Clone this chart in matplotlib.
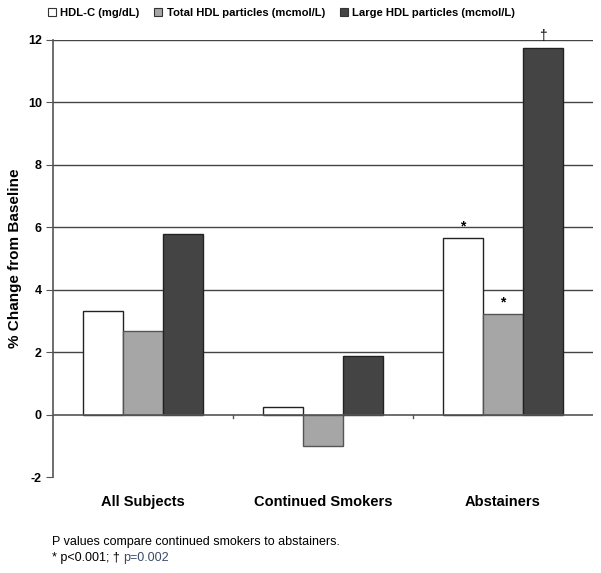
import matplotlib
matplotlib.use("Agg")
import matplotlib.pyplot as plt
import numpy as np
from matplotlib.patches import Rectangle

plt.rcParams['font.family'] = ['Liberation Sans', 'DejaVu Sans']

categories = ["All Subjects", "Continued Smokers", "Abstainers"]
series_names = ["HDL-C (mg/dL)", "Total HDL particles (mcmol/L)", "Large HDL particles (mcmol/L)"]
hdl_c = [3.32, 0.25, 5.65]
total_hdl = [2.67, -1.0, 3.22]
large_hdl = [5.77, 1.87, 11.75]
colors = ["#ffffff", "#a6a6a6", "#444444"]
annotations = {(0, 2): "*", (1, 2): "*", (2, 2): "\u2020"}  # (series, category)
yticks = [-2, 0, 2, 4, 6, 8, 10, 12]

fig = plt.figure(figsize=(6.01, 5.73), dpi=100)
ax = fig.add_axes([53/601, 1 - 477/573, 540/601, 437/573])

series = [hdl_c, total_hdl, large_hdl]
x = np.arange(len(categories))
w = 40/180
for i, vals in enumerate(series):
    ax.bar(x + (i - 1) * w, vals, width=w, color=colors[i],
           edgecolor="#222222" if i != 1 else "#555555", linewidth=1.0, zorder=3)

for (si, ci), txt in annotations.items():
    v = series[si][ci]
    ax.text(ci + (si - 1) * w, v + 0.15, txt, ha="center", va="bottom",
            fontsize=10, fontweight="bold" if txt == "*" else "normal", zorder=4)

ax.set_xlim(-0.5, 2.5)
ax.set_ylim(-2, 12)
ax.set_yticks(yticks)
ax.set_yticklabels([str(t) for t in yticks], fontsize=9, fontweight="bold")
for t in yticks[2:]:
    ax.axhline(t, color="#444444", linewidth=1.0, zorder=1)
ax.axhline(0, color="#555555", linewidth=1.2, zorder=4)

# category boundary ticks on the zero line
for b in [0.5, 1.5]:
    ax.plot([b, b], [0, -0.12], color="#555555", linewidth=1.0, zorder=4, clip_on=False)

ax.set_xticks([])
for s in ["top", "right", "bottom"]:
    ax.spines[s].set_visible(False)
ax.spines["left"].set_color("#555555")
ax.spines["left"].set_linewidth(1.2)
ax.tick_params(axis="y", direction="out", length=5, color="#555555", pad=3)

for i, c in enumerate(categories):
    ax.text(i, -2.8, c, ha="center", va="center", fontsize=10.5, fontweight="bold",
            transform=ax.transData, clip_on=False)

ax.set_ylabel("% Change from Baseline", fontsize=11, fontweight="bold")
ax.yaxis.set_label_coords(-0.057, 0.5)

# legend
handles = [Rectangle((0, 0), 1, 1, facecolor=colors[i], edgecolor="#333333", linewidth=0.8)
           for i in range(3)]
fig.legend(handles, series_names, loc="upper left", bbox_to_anchor=(38/601, 1.004),
           ncol=3, frameon=False, prop={"weight": "bold", "size": 8.1},
           handlelength=0.7, handleheight=0.7, handletextpad=0.4, columnspacing=1.3)

fig.text(52/601, 1 - 542/573, "P values compare continued smokers to abstainers.",
         fontsize=9, va="center", ha="left")
t1 = fig.text(52/601, 1 - 558/573, "* p<0.001; \u2020 ", fontsize=9, va="center", ha="left")
fig.canvas.draw()
bb = t1.get_window_extent()
fig.text(bb.x1 / fig.bbox.width, 1 - 558/573, "p=0.002", fontsize=9, va="center",
         ha="left", color="#3a4a6a")

fig.savefig("out.png", dpi=100)
